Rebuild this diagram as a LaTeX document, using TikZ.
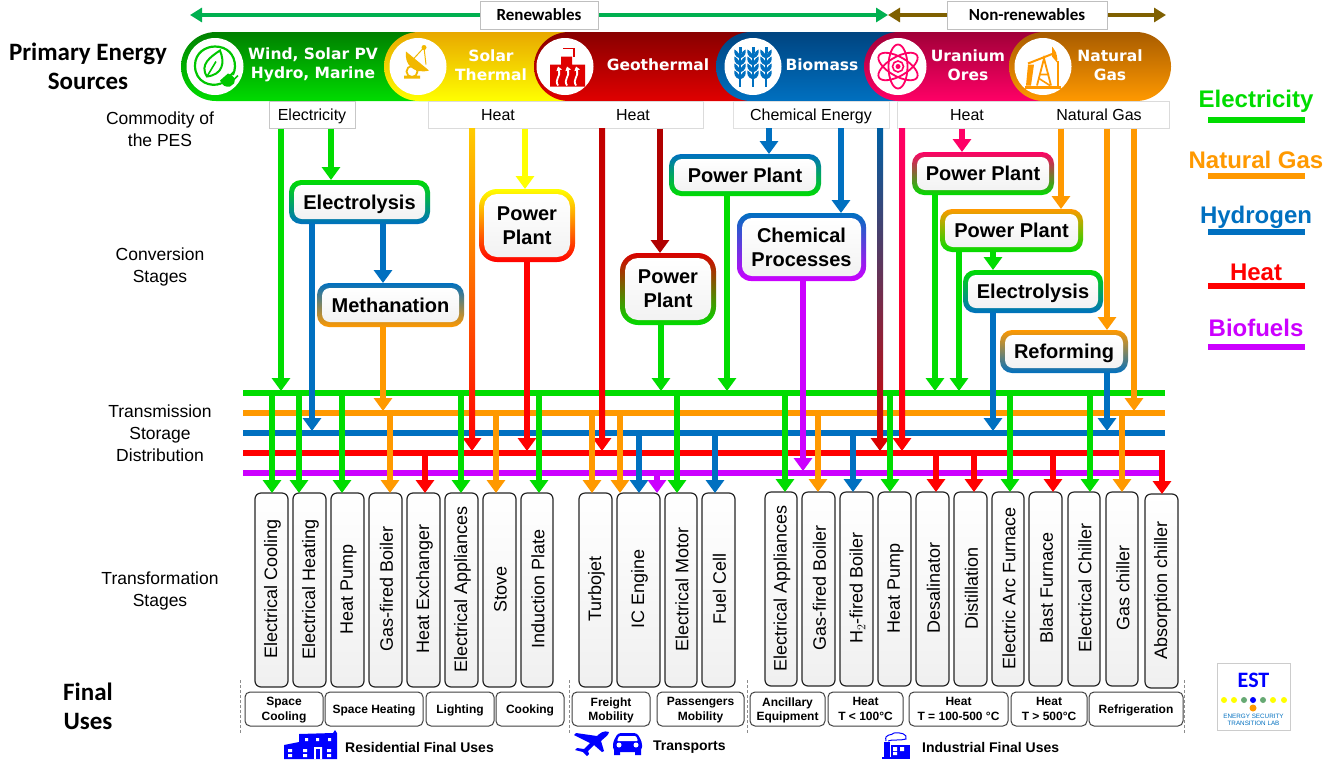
\documentclass[tikz,border=0pt]{standalone}
\usepackage{fontspec}
\setmainfont{Liberation Sans}
\newfontfamily\hpf{Carlito}
\newfontfamily\dvf{DejaVu Sans}
\usetikzlibrary{arrows.meta,calc}
\definecolor{cG}{HTML}{00DC00}
\definecolor{cO}{HTML}{FF9900}
\definecolor{cB}{HTML}{0070C0}
\definecolor{cR}{HTML}{FF0000}
\definecolor{cP}{HTML}{CC00FF}
\definecolor{cY}{HTML}{FFFF00}
\definecolor{cPk}{HTML}{FF0066}
\definecolor{cDR}{HTML}{B00000}
\definecolor{cHdrG}{HTML}{00B050}
\definecolor{cHdrB}{HTML}{7F6000}
\definecolor{cIcon}{HTML}{0000FF}
\definecolor{HdrGr}{HTML}{008000}
\definecolor{HdrY}{HTML}{E8A800}
\definecolor{HdrR}{HTML}{880000}
\definecolor{HdrR2}{HTML}{E00000}
\definecolor{HdrBl}{HTML}{004480}
\definecolor{HdrPk}{HTML}{A00038}
\definecolor{HdrOr}{HTML}{A85C00}
\def\gro{12pt}\def\gri{8pt}
\tikzset{
 cn/.style={line width=6pt,-{Triangle[width=18pt,length=13pt]}},
 bus/.style={line width=6.5pt},
 hdr/.style={line width=4pt,{Triangle[width=14pt,length=12pt]}-{Triangle[width=14pt,length=12pt]}},
 hbox/.style={draw=black!25,fill=white,line width=.8pt,inner sep=0pt,minimum height=28pt,font=\hpf\bfseries\fontsize{17}{20}\selectfont},
 combox/.style={draw=black!22,fill=white,line width=.8pt,inner sep=0pt,minimum height=27pt,font=\fontsize{16}{18}\selectfont},
 comboxn/.style={inner sep=0pt,minimum height=27pt,font=\fontsize{16}{18}\selectfont},
 combg/.style={draw=black!14,fill=white,line width=.8pt},
 gout/.style={rounded corners=\gro,inner sep=0pt,outer sep=0pt},
 ginn/.style={rounded corners=\gri,inner sep=0pt,outer sep=0pt,top color=white,bottom color=black!5,align=center,font=\bfseries\fontsize{20}{24}\selectfont},
 lab/.style={align=center,font=\fontsize{17.5}{22}\selectfont,inner sep=0pt},
 big/.style={align=center,font=\hpf\bfseries\fontsize{25}{29}\selectfont,inner sep=0pt},
 pillt/.style={align=center,text=white,font=\dvf\bfseries\fontsize{15.5}{19}\selectfont,inner sep=0pt},
 tb/.style={draw=black!85,line width=1.2pt,rounded corners=6pt,top color=white,bottom color=black!6,inner sep=0pt,outer sep=0pt},
 tt/.style={rotate=90,font=\fontsize{18}{20}\selectfont,inner sep=0pt},
 fu/.style={draw=black!75,line width=1pt,rounded corners=5pt,fill=white,inner sep=0pt,align=center,minimum height=34pt,font=\bfseries\fontsize{12}{14.5}\selectfont},
 grp/.style={font=\bfseries\fontsize{14}{16}\selectfont,inner sep=0pt},
 leg/.style={font=\bfseries\fontsize{24}{26}\selectfont,inner sep=0pt},
 legl/.style={line width=6pt},
 sep/.style={draw=black!45,densely dashed,line width=.7pt}
}
\newcommand\nd[1]{\raisebox{0pt}[\height][0pt]{#1}}
% pill section: left x, right x, top colour, bottom colour
\newcommand\pillsec[4]{\shade[top color=#3,bottom color=#4]
  ({#1+35},32) .. controls ({#1+15.5},32) and (#1,47.5) .. (#1,66.5)
  .. controls (#1,85.5) and ({#1+15.5},101) .. ({#1+35},101) -- (#2,101) -- (#2,32) -- cycle;}
\newcommand\gbox[8]{%
 \node[gout,top color=#6,bottom color=#7,minimum width=#4pt,minimum height=#5pt] (#1) at (#2,#3) {};
 \node[ginn,minimum width=#4pt-10pt,minimum height=#5pt-10pt] (#1-t) at (#1.center) {#8};}
\newcommand\tbx[5]{% name,left,right,top,text
 \node[tb,minimum width=#3pt-#2pt,minimum height=194pt] (#1) at ({(#2+#3)/2},{#4+97}) {};
 \node[tt,xshift=1pt,yshift=-1pt] (#1-t) at (#1.center) {#5};}
\newcommand\fub[4]{\node[fu,minimum width=#3pt-#2pt,text depth=0pt] (#1) at ({(#2+#3)/2},709) {#4};}
% connector: colour, from anchor, to anchor, x column
\newcommand\cnc[4]{\draw[cn,draw=#1] (#2 -| x#4) -- (#3 -| x#4);}
\newcommand\cnb[4]{\draw[cn,draw=#1,shorten >=2pt] (#2 -| x#4) -- (#3 -| x#4);}
% gradient shaft ending on a bus
\newcommand\cng[5]{\shade[top color=#1,bottom color=#2] ($(#3 -| x#5)+(-3,0)$) rectangle ($(#4 -| x#5)+(3,-8)$);
 \draw[cn,draw=#2,shorten >=2pt] ($(#4 -| x#5)+(0,-14)$) -- (#4 -| x#5);}
\begin{document}
\begin{tikzpicture}[x=1pt,y=-1pt]
\useasboundingbox (0,0) rectangle (1344,764);
\fill[white] (0,0) rectangle (1344,764);
\foreach \v in {272,281,299,312,331,342,383,390,425,461,472,496,525,527,539,592,602,620,639,657,660,661,677,715,727,769,785,803,818,841,853,880,890,902,935,936,959,962,974,993,1010,1053,1061,1090,1107,1122,1134,1162}
  \coordinate (x\v) at (\v,0);
\coordinate (busG) at (0,393);
\coordinate (busO) at (0,413);
\coordinate (busB) at (0,433);
\coordinate (busR) at (0,453);
\coordinate (busP) at (0,473);

% header arrows
\coordinate (hL) at (190,15); \coordinate (hM) at (888,15); \coordinate (hE) at (1166,15);
\draw[hdr,draw=cHdrG,fill=cHdrG] (hL) -- (hM);
\draw[hdr,draw=cHdrB,fill=cHdrB] (hM) -- (hE);
\node[hbox,minimum width=118pt] (hRen) at (539,15) {Renewables};
\node[hbox,minimum width=160pt] (hNon) at (1027,15) {Non-renewables};

% pill
\pillsec{181}{440}{HdrGr}{cG}
\pillsec{384}{570}{HdrY}{cY}
\pillsec{534}{760}{HdrR}{HdrR2}
\pillsec{716}{900}{HdrBl}{cB}
\pillsec{864}{1060}{HdrPk}{cPk}
\shade[top color=HdrOr,bottom color=cO]
  (1044,32) .. controls (1024.5,32) and (1009,47.5) .. (1009,66.5)
  .. controls (1009,85.5) and (1024.5,101) .. (1044,101) -- (1136,101)
  .. controls (1155.5,101) and (1171,85.5) .. (1171,66.5)
  .. controls (1171,47.5) and (1155.5,32) .. (1136,32) -- cycle;
\foreach \n/\cx in {cWind/215,cSol/418,cGeo/565,cBio/753,cUra/898,cGas/1043}
  \node[circle,fill=white,minimum size=57pt,inner sep=0pt] (\n) at (\cx,66.5) {};

% icon: wind
\begin{scope}[shift={(215,66.5)},draw=cG!90!black,fill=cG!90!black]
 \draw[line width=2.2pt,line cap=round] (6,17) .. controls (-4,21) and (-20,16) .. (-20,-1) .. controls (-20,-14) and (-9,-20) .. (0,-20) .. controls (12,-20) and (20,-12) .. (20,0) .. controls (20,3) and (19,6) .. (18,8);
 \draw[line width=2pt,fill=white] (-8,10) .. controls (-16,-2) and (-4,-10) .. (5,-16) .. controls (10,-4) and (8,8) .. (-8,10) -- cycle;
 \draw[line width=1.6pt] (-8,10) -- (1,-5);
 \fill (5,14) -- (13,7) .. controls (19,9) and (21,13) .. (19,17) -- (15,20) .. controls (11,21) and (7,19) .. (5,14) -- cycle;
 \draw[line width=1.6pt] (15,9) -- (19,5) (19,13) -- (23,9);
\end{scope}
% icon: solar dish
\begin{scope}[shift={(418,66.5)},fill=cO!60!cY!95!black,draw=cO!60!cY!95!black]
 \fill (-12,-15) .. controls (-14,-2) and (-4,8) .. (11,4) -- cycle;
 \draw[line width=1pt] (-6,-6) -- (6,-19);
 \draw[line width=1pt] (6,-19) -- (8,-2);
 \fill (6,-19) circle (2.5pt);
 \draw[line width=1.8pt] (-6,5) circle (5.5pt);
 \fill (-14,12) -- (2,12) -- (2,9) -- (-1,9) -- (-6,11) -- (-11,9) -- (-14,9) -- cycle;
\end{scope}
% icon: geothermal
\begin{scope}[shift={(565,66.5)},fill=cDR!40!cR]
 \fill (-15,20) -- (-15,-2) -- (-4,-2) -- (-4,-10) -- (7,-10) -- (7,-2) -- (20,-2) -- (20,20) -- cycle;
 \draw[cDR!40!cR,line width=1.4pt] (-2,-18) -- (9,-18) -- (9,-10);
 \foreach \d in {-7,2,11}
  \draw[white,line width=1.8pt,-{Triangle[width=5.5pt,length=4pt]}] (\d,19) .. controls (\d-4,13) and (\d+3,10) .. (\d,0);
\end{scope}
% icon: wheat
\begin{scope}[shift={(753,66.5)},cB]
 \foreach \d in {-13,0,13}{
  \draw[cB,line width=1.4pt] (\d,-18) -- (\d,20);
  \foreach \h in {-12,-5,2,9}{
   \fill[cB] (\d,\h+4) .. controls (\d-6,\h+2) and (\d-6,\h-2) .. (\d-5.5,\h-5) .. controls (\d-2,\h-3) and (\d,\h) .. (\d,\h+4);
   \fill[cB] (\d,\h+4) .. controls (\d+6,\h+2) and (\d+6,\h-2) .. (\d+5.5,\h-5) .. controls (\d+2,\h-3) and (\d,\h) .. (\d,\h+4);}
  \fill[cB] (\d-1.5,-14) rectangle (\d+1.5,-20);}
\end{scope}
% icon: atom
\begin{scope}[shift={(898,66.5)}]
 \foreach \a in {30,90,150}
  \draw[cPk,line width=1.8pt,rotate=\a] (0,0) ellipse (22pt and 9.5pt);
 \draw[cPk,line width=1.6pt] (0,0) circle (5.5pt);
 \fill[cPk] (0,0) circle (2.5pt);
\end{scope}
% icon: pumpjack
\begin{scope}[shift={(1043,66.5)},cO]
 \fill[cO] (-18,19) rectangle (18,22);
 \fill[cO] (-15,-2) -- (-9,-2) -- (-12,19) -- (-17,19) -- cycle;
 \draw[cO,line width=2pt] (-15,-3) -- (13,-14);
 \fill[cO] (9,-20) .. controls (14,-14) and (15,-8) .. (14,-4) -- (9,-10) -- cycle;
 \draw[cO,line width=1.8pt] (-6,19) -- (1,-8) -- (8,19);
 \draw[cO,line width=1.6pt] (-3,8) -- (6,8) (-4,12) -- (7,19);
 \fill[cO] (14,-6) rectangle (16,19);
\end{scope}
\node[pillt] (tWind) at (313,65) {Wind, Solar PV\\Hydro, Marine};
\node[pillt] (tSol) at (491,65) {Solar\\Thermal};
\node[pillt] (tGeo) at (658,65) {Geothermal};
\node[pillt] (tBio) at (822,65) {Biomass};
\node[pillt] (tUra) at (968,65) {Uranium\\Ores};
\node[pillt] (tGas) at (1110,65) {Natural\\Gas};

% buses
\coordinate (bL) at (243,0); \coordinate (bRe) at (1165,0); \coordinate (bPe) at (1162,0);
\draw[bus,draw=cG] (busG -| bL) -- (busG -| bRe);
\draw[bus,draw=cO] (busO -| bL) -- (busO -| bRe);
\draw[bus,draw=cB] (busB -| bL) -- (busB -| bRe);
\draw[bus,draw=cP] (busP -| bL) -- (busP -| bPe);
\draw[bus,draw=cR] (busR -| bL) -- (busR -| bRe);

% commodity boxes
\draw[combg] (428,101) rectangle (703,128);
\draw[combg] (897,101) rectangle (1169,128);
\node[combox,minimum width=86pt,text depth=0pt] (mEl) at (312,115) {Electricity};
\node[comboxn,minimum width=135pt] (mHs) at (498,115) {Heat};
\node[comboxn,minimum width=135pt] (mHg) at (633,115) {Heat};
\node[combox,draw=black!12,minimum width=156pt,text depth=0pt] (mCh) at (811,114.5) {Chemical Energy};
\node[comboxn,minimum width=130pt] (mHu) at (967,115) {Heat};
\node[comboxn,minimum width=130pt] (mNg) at (1099,115) {Natural Gas};

% conversion boxes
\gbox{eA}{359.5}{202}{141}{44}{cG}{cB}{\nd{Electrolysis}}
\gbox{mA}{390.5}{305}{147}{44}{cB}{cO}{Methanation}
\def\gro{18pt}\def\gri{13pt}
\gbox{pS}{527}{225.5}{96}{73}{cY}{cR}{Power\\Plant}
\gbox{pG}{668}{289}{96}{72}{cR!85!black}{cG}{Power\\Plant}
\def\gro{14pt}\def\gri{10pt}
\gbox{cC}{801.5}{247}{129}{68}{cB}{cP}{Chemical\\Processes}
\def\gro{12pt}\def\gri{8pt}
\gbox{pB}{745}{175}{152}{42}{cB}{cG}{Power Plant}
\gbox{pU}{983}{173.5}{142}{43}{cPk}{cG}{Power Plant}
\gbox{pN}{1011.5}{230.5}{143}{43}{cO}{cG}{Power Plant}
\gbox{eN}{1033}{291.5}{140}{43}{cG}{cB}{\nd{Electrolysis}}
\gbox{rN}{1064}{351.5}{128}{43}{cO}{cB}{\nd{Reforming}}

% transformation boxes
\tbx{t1}{255}{288}{493}{Electrical Cooling}
\tbx{t2}{293}{326}{493}{Electrical Heating}
\tbx{t3}{331}{364}{493}{Heat Pump}
\tbx{t4}{369}{402}{493}{Gas-fired Boiler}
\tbx{t5}{407}{440}{493}{Heat Exchanger}
\tbx{t6}{445}{478}{493}{Electrical Appliances}
\tbx{t7}{483}{516}{493}{Stove}
\tbx{t8}{521}{553}{493}{Induction Plate}
\tbx{t9}{579}{612}{493}{Turbojet}
\tbx{t10}{617}{660}{493}{IC Engine}
\tbx{t11}{665}{697}{493}{Electrical Motor}
\tbx{t12}{702}{735}{493}{Fuel Cell}
\tbx{t13}{765}{797}{492}{Electrical Appliances}
\tbx{t14}{802}{835}{492}{Gas-fired Boiler}
\tbx{t15}{840}{873}{492}{H$_2$-fired Boiler}
\tbx{t16}{878}{911}{492}{Heat Pump}
\tbx{t17}{916}{949}{492}{Desalinator}
\tbx{t18}{954}{987}{492}{Distillation}
\tbx{t19}{992}{1024}{492}{Electric Arc Furnace}
\tbx{t20}{1029}{1062}{492}{Blast Furnace}
\tbx{t21}{1068}{1100}{492}{Electrical Chiller}
\tbx{t22}{1106}{1138}{492}{Gas chiller}
\tbx{t23}{1145}{1178}{494}{Absorption chiller}

% connectors into the conversion stages and buses
\cnb{cG}{mEl.south}{busG}{281}
\cnc{cG}{mEl.south}{eA.north}{331}
\cnb{cB}{eA.south}{busB}{312}
\cnc{cB}{eA.south}{mA.north}{383}
\cnb{cO}{mA.south}{busO}{383}
\cng{cO!50!cY}{cR}{mHs.south}{busR}{472}
\cnc{cY}{mHs.south}{pS.north}{525}
\cnb{cR}{pS.south}{busR}{527}
\cng{cDR!80!cR}{cR}{mHg.south}{busR}{602}
\cnc{cDR}{mHg.south}{pG.north}{660}
\cnb{cG}{pG.south}{busG}{661}
\cnc{cB}{mCh.south}{pB.north}{769}
\cnb{cG}{pB.south}{busG}{727}
\cnc{cB}{mCh.south}{cC.north}{841}
\cnb{cP}{cC.south}{busP}{803}
\cng{cB!85!black}{cR!85!black}{mCh.south}{busR}{880}
\cng{cPk}{cR}{mHu.south}{busR}{902}
\cnc{cPk}{mHu.south}{pU.north}{962}
\cnb{cG}{pU.south}{busG}{935}
\cnc{cO}{mNg.south}{pN.north}{1061}
\cnb{cG}{pN.south}{busG}{959}
\cnc{cG}{pN.south}{eN.north}{993}
\cnb{cB}{eN.south}{busB}{993}
\cnc{cO}{mNg.south}{rN.north}{1107}
\cnb{cB}{rN.south}{busB}{1107}
\cnb{cO}{mNg.south}{busO}{1134}

% connectors from the buses
\cnc{cG}{busG}{t1.north}{272}
\cnc{cG}{busG}{t2.north}{299}
\cnc{cG}{busG}{t3.north}{342}
\cnc{cO}{busO}{t4.north}{390}
\cnc{cR}{busR}{t5.north}{425}
\cnc{cG}{busG}{t6.north}{461}
\cnc{cO}{busO}{t7.north}{496}
\cnc{cG}{busG}{t8.north}{539}
\cnc{cO}{busO}{t9.north}{592}
\cnc{cO}{busO}{t10.north}{620}
\cnc{cB}{busB}{t10.north}{639}
\cnc{cP}{busP}{t10.north}{657}
\cnc{cG}{busG}{t11.north}{677}
\cnc{cB}{busB}{t12.north}{715}
\cnc{cG}{busG}{t13.north}{785}
\cnc{cO}{busO}{t14.north}{818}
\cnc{cB}{busB}{t15.north}{853}
\cnc{cG}{busG}{t16.north}{890}
\cnc{cR}{busR}{t17.north}{936}
\cnc{cR}{busR}{t18.north}{974}
\cnc{cG}{busG}{t19.north}{1010}
\cnc{cR}{busR}{t20.north}{1053}
\cnc{cG}{busG}{t21.north}{1090}
\cnc{cO}{busO}{t22.north}{1122}
\cnc{cR}{busR}{t23.north}{1162}

% final uses
\fub{f1}{245}{323}{Space\\Cooling}
\fub{f2}{325}{423}{Space Heating}
\fub{f3}{426}{494}{Lighting}
\fub{f4}{496}{564}{Cooking}
\fub{f5}{572}{650}{Freight\\Mobility}
\fub{f6}{657}{744}{Passengers\\Mobility}
\fub{f7}{750}{825}{Ancillary\\Equipment}
\fub{f8}{828}{903}{Heat\\T < 100°C}
\fub{f9}{909}{1008}{Heat\\T = 100-500 °C}
\fub{f10}{1011}{1087}{Heat\\T > 500°C}
\fub{f11}{1089}{1183}{Refrigeration}
\foreach \x in {240,569,747,1184} \draw[sep] (\x,680) -- (\x,733);

% group labels and icons
\node[grp,anchor=west] (gR) at (345,747) {Residential Final Uses};
\node[grp,anchor=west] (gT) at (653,747) {Transports};
\node[grp,anchor=west] (gI) at (922,747) {Industrial Final Uses};
\begin{scope}[cIcon]
 \fill[cIcon] (284,759) -- (284,745) -- (299,742) -- (299,734) -- (333,733) -- (335,730) -- (337,733) -- (337,759) -- cycle;
 \fill[white] (305,738) rectangle (308,741) (316,738) rectangle (319,741) (328,738) rectangle (331,741)
   (288,749) rectangle (292,752) (303,749) rectangle (307,752) (327,749) rectangle (331,752)
   (288,754) rectangle (292,757) (303,754) rectangle (307,757) (327,754) rectangle (331,757)
   (314,747) rectangle (322,759);
 \fill[cIcon] (316,749) rectangle (320,759);
 % plane
 \fill[cIcon] (609,732) .. controls (604,730) and (600,733) .. (597,736) -- (576,733) -- (574,735) -- (590,743) -- (584,749) -- (577,748) -- (575,750) -- (583,752) -- (587,756) -- (589,754) -- (588,751) -- (594,745) -- (602,752) -- (604,751) -- (601,741) .. controls (604,738) and (609,735) .. (609,732) -- cycle;
 % car
 \fill[cIcon,rounded corners=3pt] (613,750) -- (613,742) -- (618,733) -- (637,733) -- (642,742) -- (642,750) -- (638,752) -- (617,752) -- cycle;
 \fill[white,rounded corners=1pt] (619,736) -- (636,736) -- (638,741) -- (617,741) -- cycle;
 \fill[white] (619,745) circle (2.5pt) (636,745) circle (2.5pt);
 \fill[cIcon] (614,750) rectangle (620,755) (635,750) rectangle (641,755);
 % factory
 \fill[cIcon] (882,757) rectangle (910,759);
 \fill[cIcon] (884,742) rectangle (890,757);
 \fill[cIcon] (891,745) rectangle (910,757);
 \fill[white] (893,747) rectangle (897,751) (900,747) rectangle (904,751) (893,752) rectangle (897,755);
 \draw[cIcon,line width=1pt] (886,741) .. controls (884,733) and (892,736) .. (894,733) .. controls (900,732) and (908,734) .. (906,739) .. controls (900,741) and (892,739) .. (888,741);
\end{scope}

% left labels
\node[big] (lP) at (88,66.5) {Primary Energy\\Sources};
\node[lab] (lC) at (160,129.5) {Commodity of\\the PES};
\node[lab] (lV) at (160,267) {Conversion\\Stages};
\node[lab] (lT) at (160,433) {Transmission\\Storage\\Distribution};
\node[lab] (lF) at (160,591) {Transformation\\Stages};
\node[big] (lU) at (88,706.5) {Final\\Uses};

% legend
\node[leg,text=cG] (kG) at (1256,101.5) {Electricity};
\node[leg,text=cO] (kO) at (1256,160) {Natural Gas};
\node[leg,text=cB] (kB) at (1256,217.5) {Hydrogen};
\node[leg,text=cR] (kR) at (1256,272) {Heat};
\node[leg,text=cP] (kP) at (1256,328) {Biofuels};
\draw[legl,cG] (1208,120) -- (1305,120);
\draw[legl,cO] (1208,176) -- (1305,176);
\draw[legl,cB] (1208,232) -- (1305,232);
\draw[legl,cR] (1208,286) -- (1305,286);
\draw[legl,cP] (1208,347) -- (1305,347);

% logo
\draw[black!20,fill=white,line width=.8pt] (1217,663) rectangle (1290,730);
\node[inner sep=0pt,text=cIcon,font=\hpf\bfseries\fontsize{22}{22}\selectfont] (lgE) at (1253.5,680) {EST};
\foreach \x/\c in {1224/cY,1234/cY,1244/cB!60!cY,1253/cIcon,1263/cB!60!cY,1273/cY,1284/cY}
  \fill[\c] (\x,700) circle (3pt);
\fill[cO] (1253,708) circle (3.5pt);
\node[inner sep=0pt,text=cB,align=center,font=\fontsize{6.3}{7.2}\selectfont] (lgT) at (1253.5,720) {ENERGY SECURITY\\TRANSITION LAB};
\end{tikzpicture}
\end{document}
